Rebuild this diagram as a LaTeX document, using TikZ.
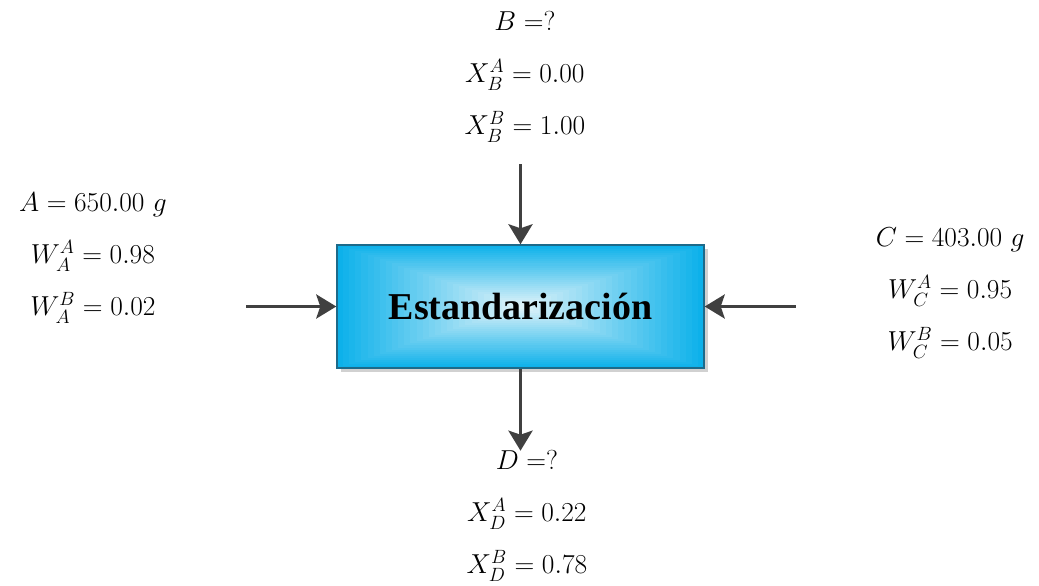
\documentclass[tikz,border=0pt]{standalone}
\usepackage{fix-cm}
\usepackage{amsmath}
\usepackage{xcolor}
\usepackage{fontspec}
\usepackage{tikz}
\usetikzlibrary{positioning, arrows.meta, shadows, calc}

\newfontfamily\titlefont{Liberation Serif}
\definecolor{boxcyan}{HTML}{0DB1EA}
\definecolor{boxlight}{HTML}{DDF2F9}
\definecolor{boxedge}{HTML}{1D6A8A}
\definecolor{arrowgray}{HTML}{404040}

\begin{document}
\begin{tikzpicture}[
    node distance=2cm, on grid,
    procbox/.style={rectangle, draw=boxedge, line width=1pt, fill=boxcyan,
        minimum width=9.175cm, minimum height=3.075cm,
        drop shadow={shadow xshift=0.09cm, shadow yshift=-0.09cm, fill=black!18, opacity=1},
        path picture={
            \foreach \k in {0,...,29}{
                \pgfmathsetmacro\shrink{1-\k/30}
                \pgfmathsetmacro\tint{100*\k/29}
                \fill[boxlight!\tint!boxcyan]
                    ($(path picture bounding box.center)!\shrink!(path picture bounding box.south west)$) rectangle
                    ($(path picture bounding box.center)!\shrink!(path picture bounding box.north east)$);
            }
        },
        font=\titlefont\bfseries\fontsize{27}{30}\selectfont},
    stream/.style={align=center, font=\fontsize{19.5}{37}\selectfont},
    flow/.style={-{Stealth[length=0.5cm, width=0.6cm, inset=0.1cm]}, line width=2.5pt, draw=arrowgray}
]
    \node[procbox] (std) {Estandarización};
    \useasboundingbox ([xshift=-13.0125cm, yshift=7.6625cm]std.center) rectangle ([xshift=12.9625cm, yshift=-6.9625cm]std.center);

    \node[stream] (B) [above right=5.74cm and 0.11cm of std] {$B =$?\\ $X_B^A = 0.00$\\ $X_B^B = 1.00$};
    \node[stream] (A) [above left=1.21cm and 10.69cm of std] {$A = 650.00\ g$\\ $W_A^A = 0.98$\\ $W_A^B = 0.02$};
    \node[stream] (C) [above right=0.34cm and 10.74cm of std] {$C = 403.00\ g$\\ $W_C^A = 0.95$\\ $W_C^B = 0.05$};
    \node[stream] (D) [below right=5.24cm and 0.16cm of std] {$D =$?\\ $X_D^A = 0.22$\\ $X_D^B = 0.78$};

    \coordinate[left=2.25cm of std.west] (inA);
    \coordinate[right=2.275cm of std.east] (inC);
    \coordinate[above=2cm of std.north] (inB);
    \coordinate[below=2.05cm of std.south] (outD);

    \draw[flow] (inA) -- (std.west);
    \draw[flow] (inC) -- (std.east);
    \draw[flow] (inB) -- (std.north);
    \draw[flow] (std.south) -- (outD);
\end{tikzpicture}
\end{document}
